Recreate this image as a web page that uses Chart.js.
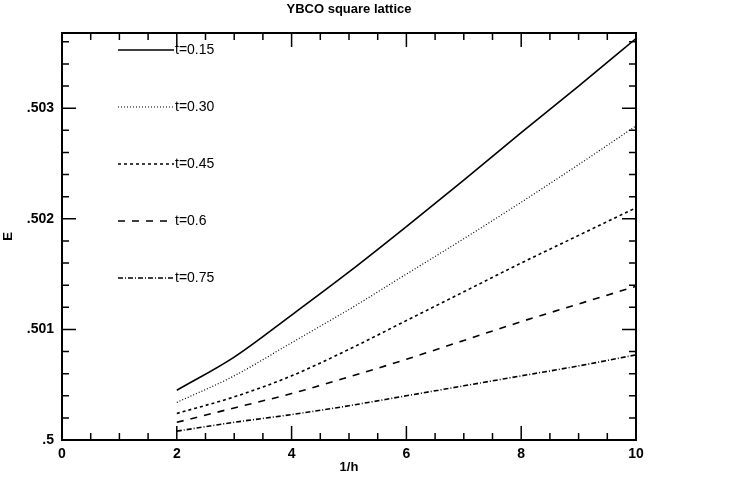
<!DOCTYPE html>
<html>
<head>
<meta charset="utf-8">
<script src="https://cdn.jsdelivr.net/npm/chart.js@4"></script>
<style>
  html, body { margin: 0; padding: 0; background: #fff; }
  #wrap { width: 734px; height: 479px; }
</style>
</head>
<body>
<div id="wrap"><canvas id="chart"></canvas></div>
<script>
// Dados
const xValues = [2, 3, 4, 5, 6, 7, 8, 9, 10];
const labels = ['t=0.15', 't=0.30', 't=0.45', 't=0.6', 't=0.75'];
const e015 = [0.50045, 0.50075, 0.50113, 0.50152, 0.50193, 0.50235, 0.50278, 0.50320, 0.50363];
const e030 = [0.50034, 0.50058, 0.50088, 0.50118, 0.50150, 0.50182, 0.50215, 0.50249, 0.50284];
const e045 = [0.50024, 0.50039, 0.50058, 0.50082, 0.50108, 0.50134, 0.50160, 0.50185, 0.50210];
const e060 = [0.50016, 0.50029, 0.50042, 0.50057, 0.50073, 0.50090, 0.50107, 0.50123, 0.50139];
const e075 = [0.50008, 0.50016, 0.50023, 0.50031, 0.50040, 0.50049, 0.50058, 0.50067, 0.50077];
const xTicks = [0, 2, 4, 6, 8, 10];
const yTicks = [0.5, 0.501, 0.502, 0.503];

const FONT = "'Liberation Sans', Arial, sans-serif";

function toPoints(values) {
    return values.map((v, i) => ({ x: xValues[i], y: v }));
}

function formatE(v) {
    // .5, .501 ...
    return v.toFixed(3).replace(/0+$/, '').replace(/^0/, '');
}

// Moldura com marcas para dentro nos quatro lados
const framePlugin = {
    id: 'frame',
    afterDatasetsDraw(chart) {
        const { ctx, chartArea: a, scales: { x, y } } = chart;
        ctx.save();
        ctx.strokeStyle = '#000';
        ctx.lineWidth = 2;
        ctx.strokeRect(a.left, a.top, a.right - a.left, a.bottom - a.top);
        ctx.lineWidth = 1.5;
        ctx.beginPath();
        for (let i = 0; i <= 20; i++) {
            const v = x.min + i * 0.5;
            const len = (i % 4 === 0) ? 14 : 7;
            const px = x.getPixelForValue(v);
            ctx.moveTo(px, a.bottom); ctx.lineTo(px, a.bottom - len);
            ctx.moveTo(px, a.top); ctx.lineTo(px, a.top + len);
        }
        for (let i = 0; ; i++) {
            const v = 0.5 + i * 0.0002;
            if (v > y.max + 1e-9) break;
            const len = (i % 5 === 0) ? 14 : 7;
            const py = y.getPixelForValue(v);
            ctx.moveTo(a.left, py); ctx.lineTo(a.left + len, py);
            ctx.moveTo(a.right, py); ctx.lineTo(a.right - len, py);
        }
        ctx.stroke();
        ctx.restore();
    }
};

// Legenda desenhada dentro da área do gráfico
const insideLegend = {
    id: 'insideLegend',
    afterDraw(chart, args, opts) {
        const ctx = chart.ctx;
        ctx.save();
        ctx.font = '14px ' + FONT;
        ctx.fillStyle = '#000';
        ctx.textBaseline = 'middle';
        chart.data.datasets.forEach((ds, i) => {
            const yy = opts.top + i * opts.step;
            ctx.strokeStyle = '#000';
            ctx.lineWidth = ds.borderWidth;
            ctx.setLineDash(ds.borderDash || []);
            ctx.beginPath();
            ctx.moveTo(opts.x0, yy);
            ctx.lineTo(opts.x1, yy);
            ctx.stroke();
            ctx.setLineDash([]);
            ctx.fillText(ds.label, opts.x1 + 1, yy);
        });
        ctx.restore();
    }
};

const dashes = [[], [1, 2], [3, 3], [7, 7], [5, 2, 1, 2]];
const series = [e015, e030, e045, e060, e075];

const ctx = document.getElementById('chart');
new Chart(ctx, {
    type: 'line',
    data: {
        datasets: series.map((s, i) => ({
            label: labels[i],
            data: toPoints(s),
            borderColor: '#000',
            borderWidth: i === 1 ? 1.2 : 1.6,
            borderDash: dashes[i],
            pointRadius: 0,
            cubicInterpolationMode: 'monotone',
            fill: false
        }))
    },
    options: {
        responsive: true,
        maintainAspectRatio: false,
        animation: false,
        layout: { padding: { left: 0, right: 98, top: 0, bottom: 0 } },
        plugins: {
            legend: { display: false },
            tooltip: { enabled: false },
            insideLegend: { x0: 118, x1: 174, top: 50, step: 57 }
        },
        scales: {
            x: {
                type: 'linear',
                min: 0,
                max: 10,
                afterBuildTicks: s => { s.ticks = xTicks.map(v => ({ value: v })); },
                afterFit: s => { s.height = 39; },
                grid: { display: false, drawTicks: false },
                border: { display: false },
                ticks: { color: '#000', padding: 6, font: { family: FONT, size: 14, weight: 'bold' } },
                title: {
                    display: true,
                    text: '1/h',
                    color: '#000',
                    font: { family: FONT, size: 13, weight: 'bold' },
                    padding: { top: 0, bottom: 4 }
                }
            },
            // eixo superior só para o título, centrado sobre a área do gráfico
            x2: {
                type: 'linear',
                position: 'top',
                min: 0,
                max: 10,
                afterFit: s => { s.height = 33; },
                grid: { display: false, drawTicks: false },
                border: { display: false },
                ticks: { display: false },
                title: {
                    display: true,
                    text: 'YBCO square lattice',
                    color: '#000',
                    font: { family: FONT, size: 13, weight: 'bold' },
                    padding: { top: 2, bottom: 0 }
                }
            },
            y: {
                type: 'linear',
                min: 0.5,
                max: 0.50368,
                afterBuildTicks: s => { s.ticks = yTicks.map(v => ({ value: v })); },
                afterFit: s => { s.width = 62; },
                grid: { display: false, drawTicks: false },
                border: { display: false },
                ticks: {
                    color: '#000',
                    padding: 8,
                    font: { family: FONT, size: 14, weight: 'bold' },
                    callback: v => formatE(v)
                },
                title: {
                    display: true,
                    text: 'E',
                    color: '#000',
                    font: { family: FONT, size: 13, weight: 'bold' },
                    padding: { top: 1, bottom: 0 }
                }
            }
        }
    },
    plugins: [framePlugin, insideLegend]
});
</script>
</body>
</html>
